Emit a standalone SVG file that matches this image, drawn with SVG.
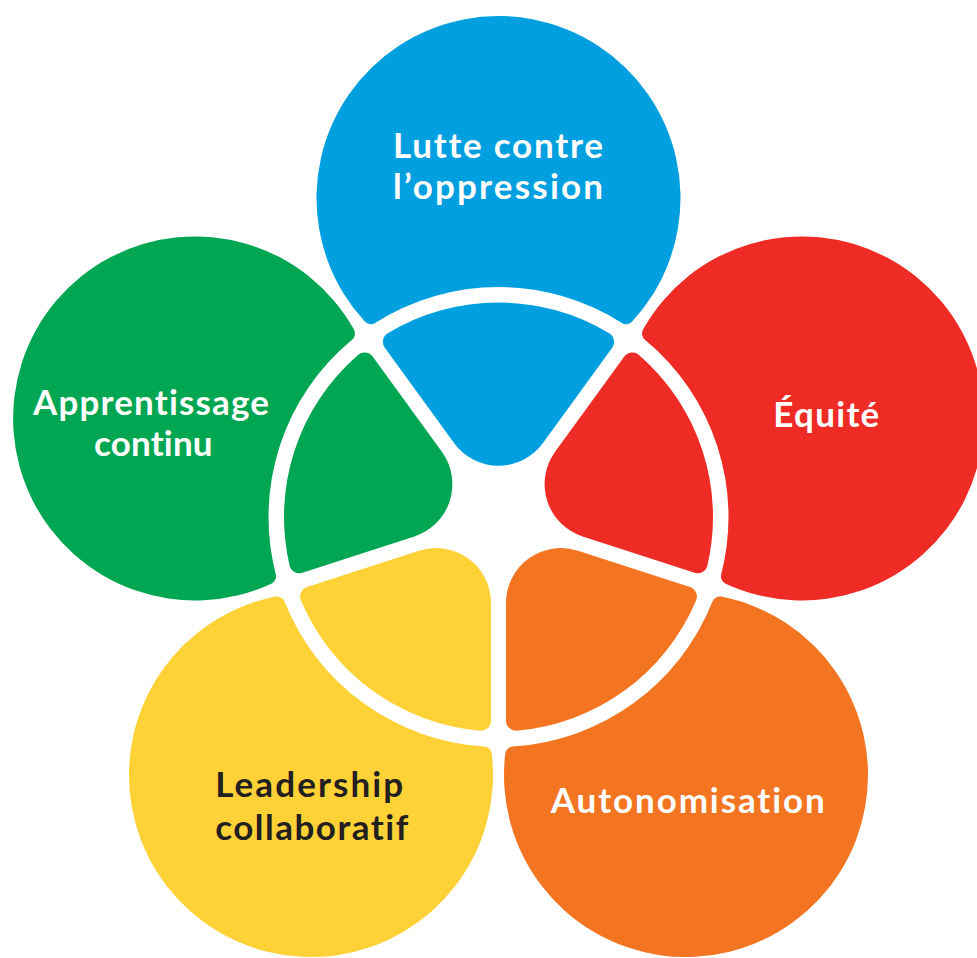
<svg xmlns="http://www.w3.org/2000/svg" xmlns:xlink="http://www.w3.org/1999/xlink" width="977" height="958" viewBox="0 0 977 958">
  <defs>
    <style>
      .label { font-family: "Lato", "Open Sans", "Liberation Sans", sans-serif; font-weight: 700; font-size: 35px; text-anchor: middle; font-variant-ligatures: none; font-feature-settings: "liga" 0, "clig" 0; }
      .light { fill: #ffffff; }
      .dark { fill: #231f20; }
      .blue { fill: #009fdf; }
      .red { fill: #ee2b24; }
      .orange { fill: #f37521; }
      .yellow { fill: #fed136; }
      .green { fill: #00a651; }
    </style>
    <!-- Petal shapes, drawn around the flower centre with the petal axis pointing up -->
    <!-- Outer disc: circle r=182 at 319 from centre, cut by the white ring (r=230), filleted corners -->
    <path id="outer" d="M 123.43,-194.08 A 230 230 0 0 0 -123.43,-194.08 A 8 8 0 0 1 -133.59,-195.40 A 182 182 0 1 1 133.59,-195.40 A 8 8 0 0 1 123.43,-194.08 Z"/>
    <!-- Inner wedge: 72 degree sector inside the ring (r=214.5), 15px radial gaps, rounded tip -->
    <path id="inner" d="M 44.50,-74.00 L 113.69,-169.25 A 10 10 0 0 0 110.76,-183.69 A 214.5 214.5 0 0 0 -110.76,-183.69 A 10 10 0 0 0 -113.69,-169.25 L -44.50,-74.00 A 55 55 0 0 0 44.50,-74.00 Z"/>
  </defs>

  <rect width="977" height="958" fill="#ffffff"/>

  <g id="lutte-contre-oppression">
    <g class="blue" transform="translate(498.5 517)">
      <use xlink:href="#outer"/>
      <use xlink:href="#inner"/>
    </g>
    <text class="label light" x="498" y="157.7" textLength="210" lengthAdjust="spacing">Lutte contre</text>
    <text class="label light" x="498" y="199.3" textLength="210" lengthAdjust="spacing">l’oppression</text>
  </g>

  <g id="equite">
    <g class="red" transform="translate(498.5 517) rotate(72)">
      <use xlink:href="#outer"/>
      <use xlink:href="#inner"/>
    </g>
    <text class="label light" x="826.3" y="426.7" textLength="106" lengthAdjust="spacing">Équité</text>
  </g>

  <g id="autonomisation">
    <g class="orange" transform="translate(498.5 517) rotate(144)">
      <use xlink:href="#outer"/>
      <use xlink:href="#inner"/>
    </g>
    <text class="label light" x="687.8" y="813.3" textLength="274" lengthAdjust="spacing">Autonomisation</text>
  </g>

  <g id="leadership-collaboratif">
    <g class="yellow" transform="translate(498.5 517) rotate(216)">
      <use xlink:href="#outer"/>
      <use xlink:href="#inner"/>
    </g>
    <text class="label dark" x="309.2" y="796.7" textLength="188" lengthAdjust="spacing">Leadership</text>
    <text class="label dark" x="311.7" y="840" textLength="193" lengthAdjust="spacing">collaboratif</text>
  </g>

  <g id="apprentissage-continu">
    <g class="green" transform="translate(498.5 517) rotate(288)">
      <use xlink:href="#outer"/>
      <use xlink:href="#inner"/>
    </g>
    <text class="label light" x="151" y="415" textLength="236" lengthAdjust="spacing">Apprentissage</text>
    <text class="label light" x="153.3" y="456" textLength="118.5" lengthAdjust="spacing">continu</text>
  </g>
</svg>
